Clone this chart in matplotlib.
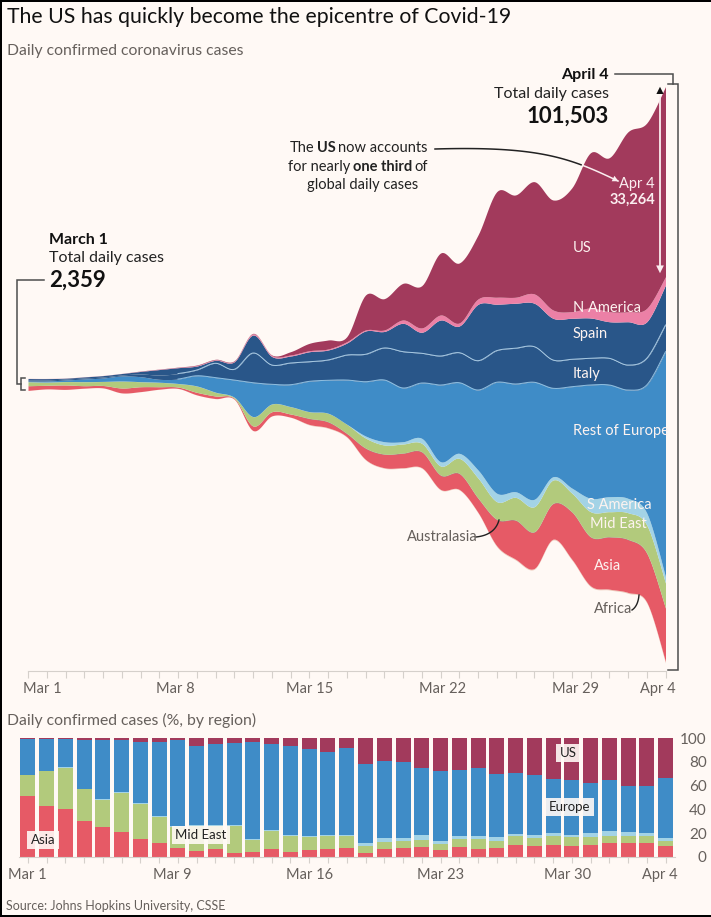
import numpy as np
import matplotlib
matplotlib.use('Agg')
import matplotlib.pyplot as plt
from matplotlib.patches import Rectangle

plt.rcParams['font.family'] = ['Lato', 'DejaVu Sans']

BG = '#fff9f5'
GREY = '#66605c'
COL_US = '#a23a5c'
COL_NA = '#ec80a6'
COL_SPAIN = '#295689'
COL_ITALY = '#295689'
COL_EUROPE = '#3f8cc7'
COL_SAM = '#a3d3e6'
COL_ME = '#b2ca7c'
COL_AUS = '#4a4a4a'
COL_ASIA = '#e65a66'
COL_AFRICA = '#ecc9b8'

# daily cases by region, Mar 1 to Apr 4
days = np.arange(35)
stream_bottom = [-1140, -875, -960, -750, -700, -1575, -1350, -930, -790, -1925, -2570, -2680, -8170, -5600, -5830,
                 -7175, -7750, -9330, -13300, -14750, -14750, -14750, -18550, -18550, -22575, -28470, -30800, -32430,
                 -27300, -30800, -35470, -36050, -36630, -38325, -48825]
africa = [20] * 15 + [100] * 10 + [150] * 9 + [250]
australasia = [10] * 15 + [50] * 20
asia = [810, 620, 760, 425, 410, 845, 845, 425, 230, 440, 440, 145, 790, 720, 550, 1020, 1005, 550, 1950, 2350, 2530,
        2750, 2475, 2770, 2475, 4600, 6800, 6380, 6220, 8250, 8550, 9130, 9250, 8550, 9325]
mid_east = [700, 560, 595, 700, 700, 1210, 875, 770, 610, 1100, 650, 175, 1630, 1350, 1280, 1155, 1470, 1575, 1750,
            1575, 1575, 1470, 1575, 2625, 3500, 3080, 3970, 4375, 4080, 3270, 4375, 4375, 4650, 4900, 4375]
s_america = [15] * 18 + [350, 580, 400, 875, 750, 875, 1400, 1470, 980, 1300, 580, 875, 2345, 2625, 2520, 2100, 1100]
rest_europe = [105, 175, 260, 455, 595, 875, 860, 510, 770, 1785, 2540, 3010, 5930, 3430, 3830, 5300, 5760, 7735, 9500,
               10800, 9400, 9680, 13420, 12360, 14000, 19430, 18850, 20480, 15470, 17730, 19830, 19550, 18950, 22400,
               39375]
italy = [175, 175, 175, 175, 175, 175, 470, 750, 960, 1000, 2520, 1870, 5200, 3380, 3800, 3430, 3550, 4375, 4800, 5600,
         6350, 5200, 5080, 5250, 5130, 5530, 6250, 6230, 4950, 4800, 4670, 4670, 4375, 4670, 4670]
spain = [260, 245, 140, 190, 245, 260, 455, 960, 1030, 700, 525, 1330, 3150, 1490, 1225, 1750, 1750, 2100, 4080, 2890,
         4970, 3680, 6300, 4670, 9870, 8120, 7880, 7600, 7300, 7180, 7050, 6400, 7580, 6400, 7000]
n_america = [15, 15, 15, 15, 15, 15, 35, 50, 50, 90, 90, 90, 210, 175, 175, 175, 175, 230, 175, 260, 580, 750, 875, 525,
             930, 1225, 1050, 1630, 1450, 1155, 1750, 1750, 1750, 2345, 1450]
us = [10, 10, 10, 10, 10, 10, 35, 35, 50, 90, 90, 90, 90, 90, 580, 1295, 1575, 875, 6125, 5480, 6420, 7400, 10850, 10500,
      11200, 18480, 17900, 19650, 19250, 21650, 27180, 26950, 31500, 32430, 33264]

# share of daily cases (%), one bar per day
bar_asia = [51, 43, 40, 30, 25, 21, 15.5, 12, 7.5, 5, 6.5, 3, 4, 6.5, 4.5, 6, 6.5, 7.5, 3.5, 7, 7.5, 8, 5.5, 8, 7, 7.5,
            10.5, 9, 10.5, 9.5, 10.5, 12, 11.5, 11.5, 9.5]
bar_me = [17.5, 29, 35, 27, 23, 33, 29, 22, 18, 21, 19.5, 23, 10.5, 15.5, 13.5, 11, 11.5, 10.5, 6, 6, 6, 6, 5.5, 7, 8.5,
          6, 7, 7, 7.5, 7, 6, 6, 6.5, 6, 4]
bar_sam = [0.5] * 18 + [2, 3, 2.5, 4.5, 2.5, 2.5, 2, 3, 2, 2.5, 2.5, 2, 4, 4, 3, 3, 2.5]
bar_europe = [30.5, 26.5, 23.5, 41, 49.5, 44, 51.5, 62.5, 72.5, 66.5, 68.5, 69.5, 81.5, 72.5, 74.5, 73, 69.5, 73, 66.5,
              65, 63.5, 56.5, 59, 56, 57, 53.5, 51.5, 50, 45, 46, 42, 42.5, 39, 39, 50.5]
bar_us = [0.5, 1, 1, 1.5, 2, 1.5, 3.5, 3, 1.5, 7, 5, 4, 3.5, 5, 7, 9.5, 12, 8.5, 22, 19, 20.5, 25, 27.5, 26.5, 25.5, 30,
          29, 31.5, 34.5, 35.5, 37.5, 35.5, 40, 40.5, 33.5]

top_labels = ['Mar 1', 'Mar 8', 'Mar 15', 'Mar 22', 'Mar 29', 'Apr 4']
bottom_labels = ['Mar 1', 'Mar 9', 'Mar 16', 'Mar 23', 'Mar 30', 'Apr 4']
pct_ticks = [0, 20, 40, 60, 80, 100]

W, H = 711, 917
fig = plt.figure(figsize=(W / 100, H / 100), dpi=100, facecolor=BG)


def box(left, top, right, bottom):
    # axes rectangle from pixel positions
    return [left / W, 1 - bottom / H, (right - left) / W, (bottom - top) / H]


def smooth(y, n=12):
    # catmull-rom through the daily values, like the curved areas of the original
    y = np.asarray(y, dtype=float)
    p = np.r_[y[0], y, y[-1]]
    t = np.linspace(0, 1, n, endpoint=False)
    out = []
    for i in range(len(y) - 1):
        m0 = (p[i + 2] - p[i]) / 2
        m1 = (p[i + 3] - p[i + 1]) / 2
        out.append((2*t**3 - 3*t**2 + 1) * p[i + 1] + (t**3 - 2*t**2 + t) * m0
                   + (-2*t**3 + 3*t**2) * p[i + 2] + (t**3 - t**2) * m1)
    return np.r_[np.concatenate(out), y[-1]]


# stream chart ########################################################
ax = fig.add_axes(box(28, 60, 665.5, 671))
ax.set_xlim(0, 34)
ax.set_ylim(-50225, 56700)
ax.patch.set_alpha(0)

layers = [(africa, COL_AFRICA), (asia, COL_ASIA), (australasia, COL_AUS), (mid_east, COL_ME), (s_america, COL_SAM),
          (rest_europe, COL_EUROPE), (italy, COL_ITALY), (spain, COL_SPAIN), (n_america, COL_NA), (us, COL_US)]
xs = smooth(days)
low = np.array(stream_bottom, dtype=float)
edges = []
for values, colour in layers:
    high = low + np.array(values, dtype=float)
    ax.fill_between(xs, smooth(low), smooth(high), color=colour, lw=0)
    edges.append(high)
    low = high
# thin pale lines between the european layers, they only show once the bands are wide enough
start = 8 * 12
ax.plot(xs[start:], smooth(edges[6])[start:], color='#a9cbe4', lw=0.7)
ax.plot(xs[start:], smooth(edges[5])[start:], color='#8fc0e2', lw=0.7)

for s in ['top', 'left', 'right']:
    ax.spines[s].set_visible(False)
ax.spines['bottom'].set_color('#d5d0cb')
ax.set_yticks([])
ax.set_xticks(days)
ax.set_xticklabels([])
ax.tick_params(axis='x', length=5, width=0.8, color='#d5d0cb')

# bar chart ###########################################################
ax2 = fig.add_axes(box(28 - 9.4, 738, 665.5 + 9.4, 857))
ax2.set_xlim(-0.5, 34.5)
ax2.set_ylim(0, 100)
ax2.patch.set_alpha(0)
bottom = np.zeros(35)
for values, colour in [(bar_asia, COL_ASIA), (bar_me, COL_ME), (bar_sam, COL_SAM), (bar_europe, COL_EUROPE),
                       (bar_us, COL_US)]:
    ax2.bar(days, values, width=0.8, bottom=bottom, color=colour, lw=0)
    bottom = bottom + np.array(values)
for s in ['top', 'left', 'right']:
    ax2.spines[s].set_visible(False)
ax2.spines['bottom'].set_color('#d5d0cb')
ax2.set_xticks(days)
ax2.set_xticklabels([])
ax2.tick_params(axis='x', length=4, width=0.8, color='#d5d0cb')
ax2.yaxis.tick_right()
ax2.set_yticks(pct_ticks)
ax2.set_yticklabels([str(v) for v in pct_ticks], color=GREY, fontsize=11, ha='right')
ax2.tick_params(axis='y', length=0, pad=23)

# text and callouts, in pixel positions ################################
ov = fig.add_axes([0, 0, 1, 1])
ov.set_xlim(0, W)
ov.set_ylim(H, 0)
ov.axis('off')


def label(x, y, s, size=10.5, color=GREY, weight='normal', ha='left', **kw):
    return ov.text(x, y, s, fontsize=size, color=color, fontweight=weight, ha=ha, va='center', **kw)


def rich_right(x, y, parts, size=10.5, color='#222222'):
    # text pieces with mixed weight, ending at x
    renderer = fig.canvas.get_renderer()
    for s, weight in reversed(parts):
        t = label(x, y, s, size=size, color=color, weight=weight, ha='right')
        x -= t.get_window_extent(renderer).width + size * 0.24 * (1 if s[0] != ' ' else 0)


label(7, 17, 'The US has quickly become the epicentre of Covid-19', size=15.3, color='#111111')
label(7, 51, 'Daily confirmed coronavirus cases', size=11.3)
label(7, 720, 'Daily confirmed cases (%, by region)', size=11.3)
label(6, 906, 'Source: Johns Hopkins University, CSSE', size=9.0)

for x, s in zip([42, 175, 310, 443, 576, 658], top_labels):
    label(x, 689, s, size=10.5, ha='center')
for x, s in zip([27, 172, 310, 441, 568, 660], bottom_labels):
    label(x, 875, s, size=10.5, ha='center')

label(609, 75, 'April 4', size=11.5, color='#111111', weight='bold', ha='right')
label(609, 94, 'Total daily cases', size=11.5, color='#222222', ha='right')
label(609, 116, '101,503', size=16, color='#111111', weight='bold', ha='right')
label(49, 240, 'March 1', size=11.5, color='#111111', weight='bold')
label(49, 258, 'Total daily cases', size=11.5, color='#222222')
label(49, 280, '2,359', size=16, color='#111111', weight='bold')

rich_right(428, 148, [('The', 'normal'), ('US', 'bold'), ('now accounts', 'normal')])
rich_right(428, 167, [('for nearly', 'normal'), ('one third', 'bold'), ('of', 'normal')])
label(418, 185, 'global daily cases', size=10.5, color='#222222', ha='right')

label(655, 184, 'Apr 4', size=10.5, color='#fbeef0', ha='right')
label(655, 200, '33,264', size=10.5, color='#fbeef0', weight='bold', ha='right')
for x, y, s in [(573, 248, 'US'), (573, 308, 'N America'), (573, 334, 'Spain'), (573, 374, 'Italy'),
                (573, 431, 'Rest of Europe'), (587, 505, 'S America'), (590, 524, 'Mid East'), (594, 566, 'Asia')]:
    label(x, y, s, size=10.5, color='#fdf3f0')
label(407, 537, 'Australasia', size=10.5)
label(594, 609, 'Africa', size=10.5)

box_style = dict(boxstyle='square,pad=0.25', fc=BG, ec='none', alpha=0.9)
for x, y, s in [(43, 840, 'Asia'), (201, 835, 'Mid East'), (568, 753, 'US'), (570, 807, 'Europe')]:
    label(x, y, s, size=9.5, color='#222222', ha='center', bbox=box_style)

# brackets
line = dict(color='#4d4d4d', lw=1.1, solid_joinstyle='miter')
ov.plot([44, 17, 17, 21], [279.5, 279.5, 384, 384], **line)
ov.plot([25, 21, 21, 25], [378, 378, 390, 390], **line)
ov.plot([615, 673, 673], [74, 74, 84], **line)
ov.plot([668, 678, 678, 668], [84, 84, 670, 670], **line)

# us arrow, white inside the area, black head at the top
ov.plot([660, 660], [97, 268], color='#fbeef0', lw=1.3)
ov.annotate('', xy=(660, 276), xytext=(660, 262),
            arrowprops=dict(arrowstyle='-|>', color='#fbeef0', lw=0, mutation_scale=14))
ov.annotate('', xy=(660, 84), xytext=(660, 99),
            arrowprops=dict(arrowstyle='-|>', color='#111111', lw=0, mutation_scale=13))

# curved pointer from the note to the figure
t = np.linspace(0, 1, 60)
bx = (1-t)**3 * 435 + 3*(1-t)**2*t * 540 + 3*(1-t)*t**2 * 570 + t**3 * 618
by = (1-t)**3 * 149 + 3*(1-t)**2*t * 146 + 3*(1-t)*t**2 * 158 + t**3 * 181
outside = bx < 583
ov.plot(bx[outside], by[outside], color='#222222', lw=1.1)
ov.plot(bx[~outside], by[~outside], color='#fbeef0', lw=1.1)
ov.annotate('', xy=(621, 182.5), xytext=(608, 176),
            arrowprops=dict(arrowstyle='-|>', color='#fbeef0', lw=0, mutation_scale=11))

# little callouts
t = np.linspace(0, 1, 30)
ov.plot((1-t)**2 * 476 + 2*(1-t)*t * 495 + t**2 * 499, (1-t)**2 * 537 + 2*(1-t)*t * 535 + t**2 * 520,
        color='#222222', lw=1.0)
ov.plot((1-t)**2 * 632 + 2*(1-t)*t * 638 + t**2 * 639, (1-t)**2 * 610 + 2*(1-t)*t * 606 + t**2 * 595,
        color='#222222', lw=1.0)

# black frame edges of the screenshot
fig.add_artist(Rectangle((0, 0), 2 / W, 1, transform=fig.transFigure, color='black', lw=0))
fig.add_artist(Rectangle((0, 1 - 1.5 / H), 1, 1.5 / H, transform=fig.transFigure, color='black', lw=0))
fig.add_artist(Rectangle((0, 0), 1, 2 / H, transform=fig.transFigure, color='black', lw=0))

fig.savefig('out.png', dpi=100, facecolor=BG)
